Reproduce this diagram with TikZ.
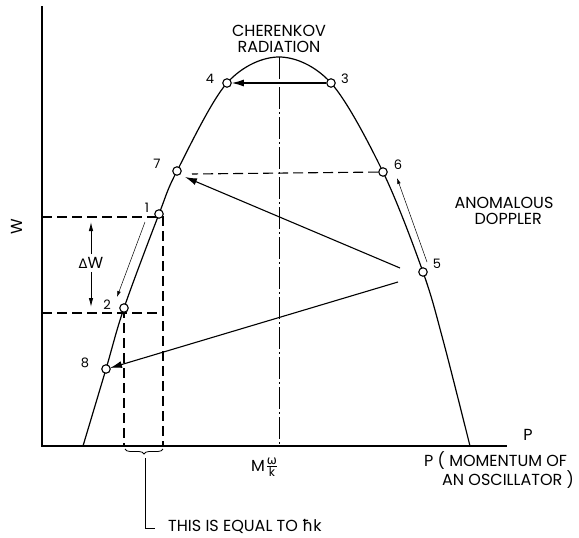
\documentclass[tikz,border=0pt]{standalone}
\usepackage{fontspec}
\setmainfont{Poppins}
\newfontfamily\dejavu{DejaVu Sans}
\usetikzlibrary{arrows.meta,decorations.pathreplacing}
\begin{document}
\begin{tikzpicture}[x=1pt,y=-1pt,
  curve/.style={line width=1.2pt},
  dsh/.style={line width=1.1pt, dash pattern=on 10pt off 5pt},
  pt/.style={circle, draw, fill=white, line width=1.1pt, inner sep=0pt, minimum size=8.5pt},
  lab/.style={font=\fontsize{13}{14}\selectfont, inner sep=0pt},
  txt/.style={font=\fontsize{16}{16.5}\selectfont, inner sep=0pt, align=center},
  bigarr/.style={line width=1.1pt, -{Latex[length=12pt,width=7pt]}},
  thinarr/.style={line width=0.5pt, -{Latex[length=6pt,width=3.5pt]}},
  dwarr/.style={line width=0.9pt, -{Latex[length=9pt,width=4.5pt]}},
]
\useasboundingbox (0,0) rectangle (579,538);
% axes
\coordinate (ytop) at (42,6);
\coordinate (orig) at (42,446);
\coordinate (xend) at (507,446);
\draw[line width=1.2pt] (ytop) -- (orig) -- (xend);
% curve
\draw[curve] plot[smooth, tension=0.55] coordinates {(83,446) (106,369) (124,308) (159,214) (177,171) (227,83) (279,57) (331,83) (383,172) (423,272) (443,340) (470,446)};
% centre line
\coordinate (ctop) at (279,57);
\coordinate (cbot) at (279,446);
\draw[line width=0.9pt, dash pattern=on 22pt off 3pt on 2pt off 3pt] (ctop) -- (cbot);
% dashed guide lines
\coordinate (h1a) at (42,217);
\coordinate (h1b) at (163,217);
\coordinate (v1b) at (163,446);
\coordinate (h2a) at (42,313);
\coordinate (h2b) at (163,313);
\coordinate (v2t) at (124,308);
\coordinate (v2b) at (124,446);
\draw[dsh] (h1a) -- (h1b) -- (v1b);
\draw[dsh] (h2a) -- (h2b);
\draw[dsh] (v2t) -- (v2b);
% points
\node[pt] (p1) at (159,214) {};
\node[pt] (p2) at (124,308) {};
\node[pt] (p3) at (331,83) {};
\node[pt] (p4) at (227,83) {};
\node[pt] (p5) at (423,272) {};
\node[pt] (p6) at (383,172) {};
\node[pt] (p7) at (177,171) {};
\node[pt] (p8) at (106,369) {};
% point labels
\node[lab] (l1) at (147,208) {1};
\node[lab] (l2) at (107,305) {2};
\node[lab] (l3) at (345,79) {3};
\node[lab] (l4) at (210,79) {4};
\node[lab] (l5) at (437,264) {5};
\node[lab] (l6) at (398,165) {6};
\node[lab] (l7) at (157,164) {7};
\node[lab] (l8) at (85,363) {8};
% dashed 6 -> 7
\coordinate (d7) at (192,174);
\draw[dsh] (p6) -- (d7);
% arrows
\draw[bigarr] (p3) -- (p4);
\coordinate (s57) at (400,268);
\coordinate (s58) at (398,282);
\coordinate (e7) at (185,177);
\coordinate (e8) at (110,368);
\draw[bigarr] (s57) -- (e7);
\draw[bigarr] (s58) -- (e8);
\coordinate (t1a) at (145,222);
\coordinate (t1b) at (117,297);
\draw[thinarr] (t1a) -- (t1b);
\coordinate (t5a) at (427,262);
\coordinate (t5b) at (397,178);
\draw[thinarr] (t5a) -- (t5b);
% Delta W
\node[txt] (dw) at (91,263) {{\dejavu\fontsize{13}{14}\selectfont Δ}W};
\coordinate (dwt) at (91,222);
\coordinate (dwb) at (91,307);
\draw[dwarr] (dw.north) ++(0,-3) -- (dwt);
\draw[dwarr] (dw.south) ++(0,3) -- (dwb);
% texts
\node[txt] (wl) at (17,227) [rotate=90] {W};
\node[txt] (cher) at (279,39) {CHERENKOV\\RADIATION};
\node[txt] (anom) at (504,211) {ANOMALOUS\\\ \ DOPPLER};
\node[txt] (pl) at (528,435) {P};
\node[txt, align=left, anchor=north west] (mom) at (424,451) {P ( MOMENTUM OF\\\hspace{18pt}AN OSCILLATOR )};
\node[txt] (mm) at (258,466) {M};
\node[font=\fontsize{12}{12}\selectfont, inner sep=0pt] (om) at (272,461) {{\dejavu ω}};
\node[font=\fontsize{12}{12}\selectfont, inner sep=0pt] (kk) at (272,472) {k};
\coordinate (fba) at (267,466);
\coordinate (fbb) at (277,466);
\draw[line width=0.7pt] (fba) -- (fbb);
% brace
\draw[line width=0.8pt, decorate, decoration={brace, mirror, amplitude=5pt}] (125,449) -- (163,449);
\coordinate (bt) at (145,458);
\coordinate (bb) at (145,528);
\coordinate (be) at (155,528);
\draw[line width=0.8pt] (bt) -- (bb) -- (be);
\node[txt, anchor=west] (eq) at (168,526) {THIS IS EQUAL TO {\dejavu ħ}k};
\end{tikzpicture}
\end{document}
